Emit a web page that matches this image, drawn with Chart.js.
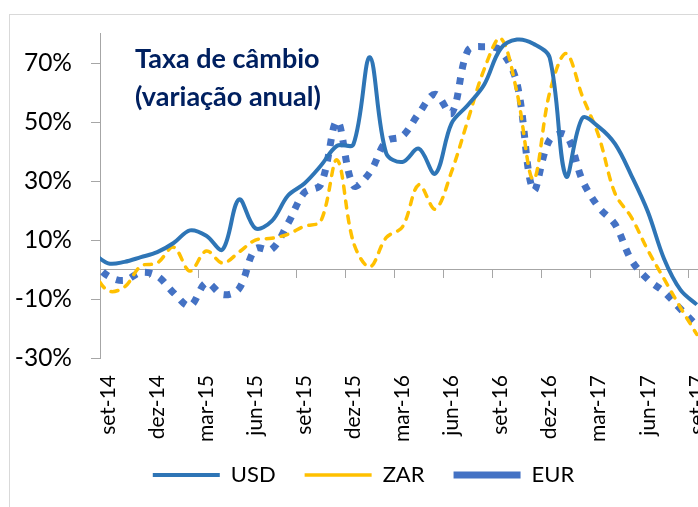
<!DOCTYPE html>
<html>
<head>
<meta charset="utf-8">
<script src="https://cdn.jsdelivr.net/npm/chart.js@4.4.0/dist/chart.umd.min.js"></script>
<style>
  html, body { margin: 0; padding: 0; background: #fff; overflow: hidden; }
  #wrap { width: 698px; height: 507px; overflow: hidden; }
</style>
</head>
<body>
<div id="wrap"><canvas id="cambio" width="720" height="507"></canvas></div>
<script>
// months (first one only feeds the line as it enters the plot)
const months = ['ago-14', 'set-14', 'out-14', 'nov-14', 'dez-14', 'jan-15', 'fev-15', 'mar-15',
  'abr-15', 'mai-15', 'jun-15', 'jul-15', 'ago-15', 'set-15', 'out-15', 'nov-15', 'dez-15',
  'jan-16', 'fev-16', 'mar-16', 'abr-16', 'mai-16', 'jun-16', 'jul-16', 'ago-16', 'set-16',
  'out-16', 'nov-16', 'dez-16', 'jan-17', 'fev-17', 'mar-17', 'abr-17', 'mai-17', 'jun-17',
  'jul-17', 'ago-17', 'set-17'];
const tickLabels = ['set-14', 'dez-14', 'mar-15', 'jun-15', 'set-15', 'dez-15', 'mar-16',
  'jun-16', 'set-16', 'dez-16', 'mar-17', 'jun-17', 'set-17'];
const yTicks = [-30, -10, 10, 30, 50, 70];

const usd = [6, 2.1, 2.6, 4.2, 5.9, 9.0, 13.3, 11.5, 6.8, 23.8, 14.0, 16.4, 25.1, 29.2, 35.2,
  42, 42.5, 72, 39.5, 36.5, 41, 32.5, 49.6, 55.8, 62.8, 74.9, 78.0, 76.6, 71.9, 31.6, 51.4,
  48.4, 42.6, 31.9, 19.7, 3.6, -6.9, -11.9];
const zar = [0, -7.2, -5.9, 1.2, 2.2, 7.6, -0.5, 6.3, 2.2, 5.9, 10.0, 10.6, 12.0, 14.7, 16.4,
  37.2, 9.2, 0.9, 10.8, 14.5, 28.8, 20.5, 33.2, 50.7, 68, 78.5, 60.1, 30.5, 60, 73.3, 58.8,
  45.3, 25.8, 17.7, 6.6, -3.2, -12.9, -22.0];
const eur = [3, -2.2, -3.7, -1.0, -2.2, -7.9, -12.3, -4.5, -8.5, -6.5, 7.0, 6.9, 15.7, 26.1,
  28.8, 50.3, 28.5, 32.9, 43.5, 45.3, 53, 59.5, 53, 74.3, 75.6, 74.3, 63.2, 27, 44, 45.6,
  30.3, 21.1, 15.3, 3.2, -3.3, -7.6, -13.4, -19];

const axisGrey = '#A6A6A6';
Chart.defaults.font.family = 'Lato';
Chart.defaults.color = '#000';

// grey frame of the Excel chart
const frame = {
  id: 'frame',
  beforeDraw(chart) {
    const c = chart.ctx;
    c.save();
    c.strokeStyle = '#D9D9D9';
    c.lineWidth = 1;
    c.strokeRect(9.5, 14.5, 900, 700);
    c.restore();
  }
};

// title inside the plot
const inTitle = {
  id: 'inTitle',
  afterDatasetsDraw(chart) {
    const c = chart.ctx;
    c.save();
    c.fillStyle = '#002060';
    c.font = 'bold 27px Lato';
    c.textBaseline = 'alphabetic';
    c.fillText('Taxa de câmbio', 135, 68);
    c.fillText('(variação anual)', 135, 106);
    c.restore();
  }
};

const lineClip = {left: 0, right: 0, top: false, bottom: false};
const noLabelClip = () => undefined; // labels may run past their box, as in Excel

new Chart(document.getElementById('cambio'), {
  type: 'line',
  data: {
    labels: months,
    datasets: [
      { label: 'USD', data: usd, borderColor: '#2E75B6', borderWidth: 4, clip: lineClip },
      { label: 'ZAR', data: zar, borderColor: '#FFC000', borderWidth: 3.5,
        borderDash: [7, 8], borderCapStyle: 'round', clip: lineClip },
      { label: 'EUR', data: eur, borderColor: '#4472C4', borderWidth: 7,
        borderDash: [7, 8.5], clip: lineClip }
    ]
  },
  options: {
    responsive: false,
    animation: false,
    layout: { padding: { left: 22, top: 33, right: 15, bottom: 11 } },
    elements: {
      point: { radius: 0 },
      line: { tension: 0.35, fill: false, borderJoinStyle: 'round' }
    },
    scales: {
      x: {
        type: 'category', min: 'set-14', max: 'set-17', offset: true,
        grid: { display: false, drawTicks: false },
        border: { display: false },
        afterFit: s => {
          s.height = 77;
          s.paddingLeft = 0;
          s.paddingRight = 0;
          s._computeLabelArea = noLabelClip;
        },
        ticks: {
          autoSkip: false, minRotation: 90, maxRotation: 90, padding: 17,
          font: { size: 21 },
          callback: function (v) {
            const l = this.getLabelForValue(v);
            return tickLabels.includes(l) ? l : '';
          }
        }
      },
      x2: {
        type: 'category', position: { y: 0 }, min: 'set-14', max: 'set-17', offset: true,
        grid: {
          drawOnChartArea: false, offset: true, tickLength: 8,
          color: c => (c.index % 3 === 0 ? axisGrey : 'rgba(0,0,0,0)')
        },
        border: { color: axisGrey },
        ticks: { display: false }
      },
      y: {
        min: -30, max: 80,
        afterBuildTicks: s => { s.ticks = yTicks.map(v => ({ value: v })); },
        afterFit: s => {
          s.width = 78;
          s._computeLabelArea = noLabelClip;
        },
        grid: { drawOnChartArea: false, color: axisGrey, tickLength: 9 },
        border: { color: axisGrey },
        ticks: { padding: 19, font: { size: 24.5 }, callback: v => v + '%' }
      }
    },
    plugins: {
      legend: {
        position: 'bottom',
        labels: {
          usePointStyle: true, pointStyle: 'line', pointStyleWidth: 67,
          padding: 29, font: { size: 22 }
        }
      },
      tooltip: { enabled: false }
    }
  },
  plugins: [frame, inTitle]
});
</script>
</body>
</html>
